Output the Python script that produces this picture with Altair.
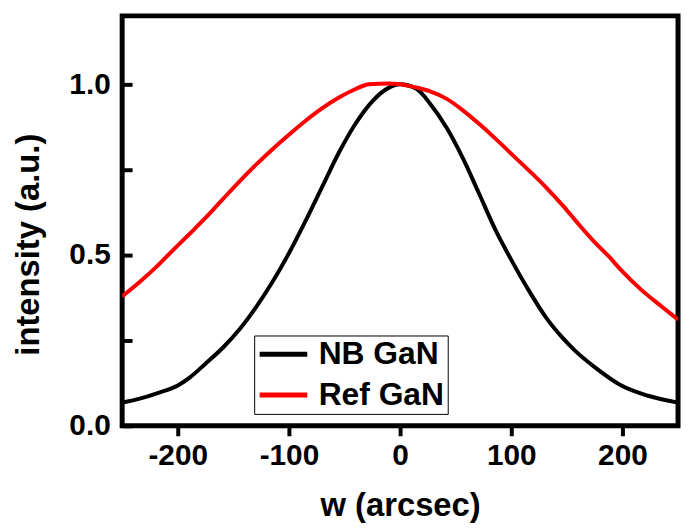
import altair as alt
import pandas as pd

nb_w = [-250, -235, -218, -200, -189, -175, -159, -144, -130, -115, -100, -85, -70, -55,
        -40, -25, -10, 0, 15, 27, 42, 57, 71, 86, 101, 116, 131, 146, 158, 175, 199, 223, 250]
nb_gan = [0.068, 0.079, 0.096, 0.118, 0.142, 0.182, 0.23, 0.284, 0.345, 0.42, 0.505, 0.6,
          0.7, 0.8, 0.885, 0.95, 0.99, 1.0, 0.986, 0.943, 0.872, 0.78, 0.68, 0.572, 0.48,
          0.395, 0.318, 0.258, 0.218, 0.172, 0.118, 0.088, 0.068]
ref_w = [-250, -234, -219, -204, -189, -174, -159, -144, -130, -115, -100, -85, -70, -55,
         -40, -28, -10, 0, 15, 27, 42, 57, 71, 86, 101, 116, 131, 146, 158, 176, 188, 199,
         217, 235, 250]
ref_gan = [0.379, 0.422, 0.466, 0.515, 0.563, 0.612, 0.665, 0.717, 0.763, 0.809, 0.852,
           0.893, 0.93, 0.961, 0.986, 1.0, 1.002, 1.0, 0.99, 0.979, 0.957, 0.922, 0.884,
           0.84, 0.793, 0.747, 0.699, 0.646, 0.6, 0.534, 0.495, 0.455, 0.398, 0.35, 0.311]
series = ["NB GaN", "Ref GaN"]
colors = ["#000000", "#ff0000"]
x_ticks = [-200, -100, 0, 100, 200]
y_ticks = [0.0, 0.25, 0.5, 0.75, 1.0]

df = pd.DataFrame({
    "w": nb_w + ref_w,
    "intensity": nb_gan + ref_gan,
    "sample": [series[0]] * len(nb_w) + [series[1]] * len(ref_w),
})

FONT = "Liberation Sans"

chart = alt.Chart(df).mark_line(strokeWidth=4, clip=True, interpolate="monotone").encode(
    x=alt.X("w:Q",
            scale=alt.Scale(domain=[-250, 250], nice=False, zero=False),
            axis=alt.Axis(values=x_ticks, title="w (arcsec)", domain=False, grid=False,
                          tickSize=10, tickWidth=4, tickColor="black",
                          labelExpr="'' + datum.value",
                          labelFont=FONT, labelFontSize=30, labelFontWeight="bold",
                          labelColor="black", labelPadding=5,
                          titleFont=FONT, titleFontSize=33, titleFontWeight="bold",
                          titleColor="black", titlePadding=19)),
    y=alt.Y("intensity:Q",
            scale=alt.Scale(domain=[0, 1.2], nice=False),
            axis=alt.Axis(values=y_ticks, title="intensity (a.u.)", domain=False, grid=False,
                          offset=-10, tickSize=10, tickWidth=4, tickColor="black",
                          labelExpr="(round(datum.value*100) % 50 == 0) ? format(datum.value, '.1f') : ''",
                          labelFont=FONT, labelFontSize=30, labelFontWeight="bold",
                          labelColor="black", labelPadding=12,
                          titleFont=FONT, titleFontSize=33, titleFontWeight="bold",
                          titleColor="black", titlePadding=24, titleY=230)),
    color=alt.Color("sample:N",
                    scale=alt.Scale(domain=series, range=colors),
                    legend=alt.Legend(title=None, orient="none", legendX=133, legendY=322,
                                      symbolType="stroke", symbolSize=2304,
                                      symbolStrokeWidth=5, clipHeight=32,
                                      labelFont=FONT, labelFontSize=32, labelFontWeight="bold",
                                      labelColor="black", labelOffset=9,
                                      rowPadding=9, padding=3,
                                      strokeColor="black")),
).properties(
    width=560,
    height=413,
    autosize=alt.AutoSizeParams(type="none"),
    padding={"left": 115, "top": 6, "right": 4, "bottom": 100},
).configure(
    background="white",
    view=alt.ViewConfig(stroke="black", strokeWidth=5),
)

chart.save("out.html", embed_options={"renderer": "svg", "actions": False})
